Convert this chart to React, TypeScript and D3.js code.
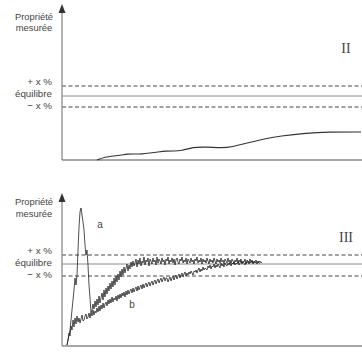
import React, { useEffect, useRef } from "react";
import * as d3 from "d3";

// time runs 0..300, property 0..150 (arbitrary units)
const topCurve: [number, number][] = [
  [35, 0], [43, 3], [52, 4], [60, 5], [65, 6], [72, 6], [80, 6], [88, 7], [96, 8],
  [104, 9], [112, 9], [119, 9], [131, 13], [145, 13], [160, 12], [170, 13], [185, 17],
  [201, 21], [218, 24], [245, 27], [265, 28], [299, 28],
];

// curve a and b: one reading per time unit, starting at t = 5
const startT = 5;
const valuesA = [
  1, 6, 11, 16, 26, 36, 46, 56, 68, 61, 71, 96, 119, 134, 138, 131, 124, 116, 101, 91, 96, 81, 61, 48, 34, 36,
  42, 37, 45, 39, 47, 41, 50, 43, 48, 53,
  46, 56, 49, 58, 52, 60, 55, 63, 57, 65,
  59, 68, 61, 70, 64, 72, 66, 75, 69, 77,
  71, 79, 73, 78, 82, 75, 81, 77, 84, 79,
  85, 80, 83, 87, 79, 86, 82, 88, 80, 85,
  83, 89, 81, 86, 84, 88, 80, 87, 85, 82,
  88, 84, 86, 81, 89, 83, 87, 85, 82, 88,
  84, 86, 81, 87, 85, 89, 82, 86, 84, 88,
  83, 87, 81, 86, 88, 84, 82, 87, 85, 89,
  83, 86, 84, 88, 82, 87, 85, 83, 88, 84,
  86, 82, 87, 85, 89, 83, 86, 84, 88, 82,
  87, 84, 86, 83, 88, 85, 82, 87, 84, 86,
  83, 88, 85, 82, 87, 84, 86, 83, 88, 84,
  86, 82, 87, 85, 83, 88, 84, 86, 83, 87,
  85, 82, 86, 84, 88, 83, 86, 84, 87, 83,
  85, 84, 87, 82, 86, 85, 83, 87, 84, 86,
  83, 85, 84, 86, 83, 85, 84, 85, 83, 84,
];

const valuesB = [
  1, 6, 13, 10, 20, 16, 26, 19, 28, 22,
  30, 24, 28, 23, 27, 31, 25, 26, 30, 32,
  27, 29, 33, 28, 34, 30, 36, 31, 35, 33,
  38, 34, 40, 35, 41, 37, 43, 38, 42, 44,
  40, 46, 42, 47, 43, 49, 44, 48, 46, 50,
  45, 51, 47, 52, 48, 53, 50, 54, 49, 55,
  51, 56, 52, 55, 57, 53, 58, 54, 57, 59,
  55, 60, 56, 59, 61, 57, 62, 58, 61, 63,
  59, 62, 64, 60, 63, 65, 61, 64, 66, 62,
  65, 67, 63, 66, 68, 64, 67, 69, 65, 68,
  68, 64, 67, 69, 65, 68, 70, 66, 69, 71,
  67, 70, 72, 68, 71, 73, 69, 72, 74, 70,
  73, 71, 74, 72, 75, 73, 71, 75, 74, 76,
  73, 76, 78, 74, 77, 75, 79, 76, 78, 77,
  76, 80, 78, 81, 77, 80, 79, 82, 78, 81,
  79, 82, 80, 78, 83, 80, 82, 79, 83, 81,
  80, 83, 81, 84, 80, 83, 82, 84, 81, 83,
  82, 84, 81, 83, 85, 82, 84, 83, 81, 84,
  83, 85, 82, 84, 83, 85, 82, 84, 83, 84, 82, 84, 83, 83,
];

// equilibrium band levels per panel: [+x %, équilibre, -x %]
const topLevels = [74, 64, 53];
const bottomLevels = [91, 82, 70];
const levelLabels = ["+ x %", "équilibre", "− x %"];
const yLabel = ["Propriété", "mesurée"];

const sans = "Liberation Sans, Arial, sans-serif";

export default function App() {
  const svgRef = useRef<SVGSVGElement>(null);
  const width = 362;
  const height = 359;
  const axisX = 62;

  useEffect(() => {
    const svg = d3.select(svgRef.current);
    svg.selectAll("*").remove();

    const x = d3.scaleLinear().domain([0, 300]).range([axisX, 362]);

    const panels = [
      { y: d3.scaleLinear().domain([0, 150]).range([160, 10]), tip: 4, levels: topLevels, numeral: "II", numY: 53, labelBase: [20, 31], levelBase: [85, 97, 109] },
      { y: d3.scaleLinear().domain([0, 150]).range([346, 196]), tip: 193, levels: bottomLevels, numeral: "III", numY: 242, labelBase: [205, 216.5], levelBase: [254, 265.5, 277.5] },
    ];

    panels.forEach((p, i) => {
      const g = svg.append("g");
      const y = p.y;

      // band lines
      p.levels.forEach((lv, k) => {
        g.append("line")
          .attr("x1", axisX).attr("x2", width)
          .attr("y1", y(lv)).attr("y2", y(lv))
          .attr("stroke", k === 1 ? "#8a8a8a" : "#444")
          .attr("stroke-width", 1)
          .attr("stroke-dasharray", k === 1 ? null : "4,2.5");
        g.append("text")
          .attr("x", 52).attr("y", p.levelBase[k])
          .attr("text-anchor", "end")
          .attr("font-family", sans)
          .attr("font-size", 9.8)
          .attr("fill", "#444")
          .text(levelLabels[k]);
      });

      // axes
      g.append("line")
        .attr("x1", axisX).attr("x2", width)
        .attr("y1", y(0)).attr("y2", y(0))
        .attr("stroke", "#8a8a8a").attr("stroke-width", 1.3);
      g.append("line")
        .attr("x1", axisX).attr("x2", axisX)
        .attr("y1", y(0)).attr("y2", p.tip + 8)
        .attr("stroke", "#8a8a8a").attr("stroke-width", 1.3);
      g.append("path")
        .attr("d", `M${axisX},${p.tip} L${axisX + 3.5},${p.tip + 9} L${axisX - 3.5},${p.tip + 9} Z`)
        .attr("fill", "#333");

      yLabel.forEach((t, k) => {
        g.append("text")
          .attr("x", 34).attr("y", p.labelBase[k])
          .attr("text-anchor", "middle")
          .attr("font-family", sans)
          .attr("font-size", 9.4)
          .attr("fill", "#444")
          .text(t);
      });

      g.append("text")
        .attr("x", 346).attr("y", p.numY)
        .attr("text-anchor", "middle")
        .attr("font-family", "Liberation Serif, serif")
        .attr("font-size", 14)
        .attr("fill", "#444")
        .text(p.numeral);

      if (i === 0) {
        const line = d3.line<[number, number]>()
          .x((d) => x(d[0])).y((d) => y(d[1]))
          .curve(d3.curveBasis);
        g.append("path")
          .attr("d", line(topCurve))
          .attr("fill", "none")
          .attr("stroke", "#333")
          .attr("stroke-width", 1.1);
      } else {
        const line = d3.line<number>()
          .x((_, j) => x(startT + j)).y((d) => y(d));
        [valuesB, valuesA].forEach((c) => {
          g.append("path")
            .attr("d", line(c))
            .attr("fill", "none")
            .attr("stroke", "#222")
            .attr("stroke-width", 0.8);
        });
        g.append("text")
          .attr("x", 100).attr("y", 228)
          .attr("text-anchor", "middle")
          .attr("font-family", sans)
          .attr("font-size", 10)
          .attr("fill", "#444")
          .text("a");
        g.append("text")
          .attr("x", 132).attr("y", 308)
          .attr("text-anchor", "middle")
          .attr("font-family", sans)
          .attr("font-size", 10)
          .attr("fill", "#444")
          .text("b");
      }
    });
  }, []);

  return (
    <svg
      ref={svgRef}
      width={width}
      height={height}
      style={{ position: "absolute", left: 0, top: 0, background: "#fff" }}
    ></svg>
  );
}
